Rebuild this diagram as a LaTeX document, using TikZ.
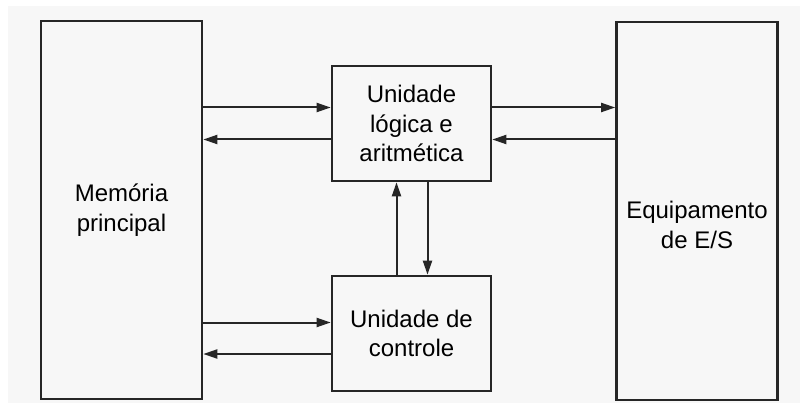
\documentclass[tikz,border=0pt]{standalone}
\usepackage{fontspec}
\setmainfont{Liberation Sans}
\usetikzlibrary{arrows.meta, positioning, calc}

\begin{document}
\begin{tikzpicture}[
        x=1pt, y=-1pt,
        unit/.style={draw=black!85, line width=2.6pt, rectangle, align=center, inner sep=0pt, font=\fontsize{24}{29.5}\selectfont},
        unitlabel/.style={align=center, inner sep=0pt, font=\fontsize{24}{29.5}\selectfont},
        arrow/.style={-{Triangle[length=14pt, width=9pt]}, line width=2pt, draw=black!85}
    ]
    \useasboundingbox (0,0) rectangle (800,403);
    \fill[black!3] (8,6) rectangle (800,403);

    % Units
    \node[unit, minimum width=161pt, minimum height=378pt] (mem) at (121.5,210) {Memória\\principal};
    \node[unit, minimum width=159pt, minimum height=115pt] (alu) at (411.5,123.5) {Unidade\\lógica e\\aritmética};
    \node[unit, minimum width=159pt, minimum height=115pt, below=92.4pt of alu] (ctrl) {Unidade de\\controle};
    \node[unit, minimum width=161pt, minimum height=378pt] (es) at (697,211) {};
    \node[unitlabel] (estext) at ([yshift=-14pt]es.center) {Equipamento\\de E/S};

    % Connection points
    \coordinate (m2a) at ([yshift=16pt]alu.west);
    \coordinate (a2m) at ([yshift=-16pt]alu.west);
    \coordinate (m2c) at ([yshift=11pt]ctrl.west);
    \coordinate (c2m) at ([yshift=-20.5pt]ctrl.west);

    % Arrows
    \draw[arrow] (mem.east |- m2a) -- (m2a);
    \draw[arrow] (a2m) -- (mem.east |- a2m);
    \draw[arrow] ([yshift=16pt]alu.east) -- (es.west |- m2a);
    \draw[arrow] (es.west |- a2m) -- ([yshift=-16pt]alu.east);
    \draw[arrow] ([xshift=-15pt]ctrl.north) -- ([xshift=-15pt]alu.south);
    \draw[arrow] ([xshift=16pt]alu.south) -- ([xshift=16pt]ctrl.north);
    \draw[arrow] (mem.east |- m2c) -- (m2c);
    \draw[arrow] (c2m) -- (mem.east |- c2m);

\end{tikzpicture}
\end{document}
